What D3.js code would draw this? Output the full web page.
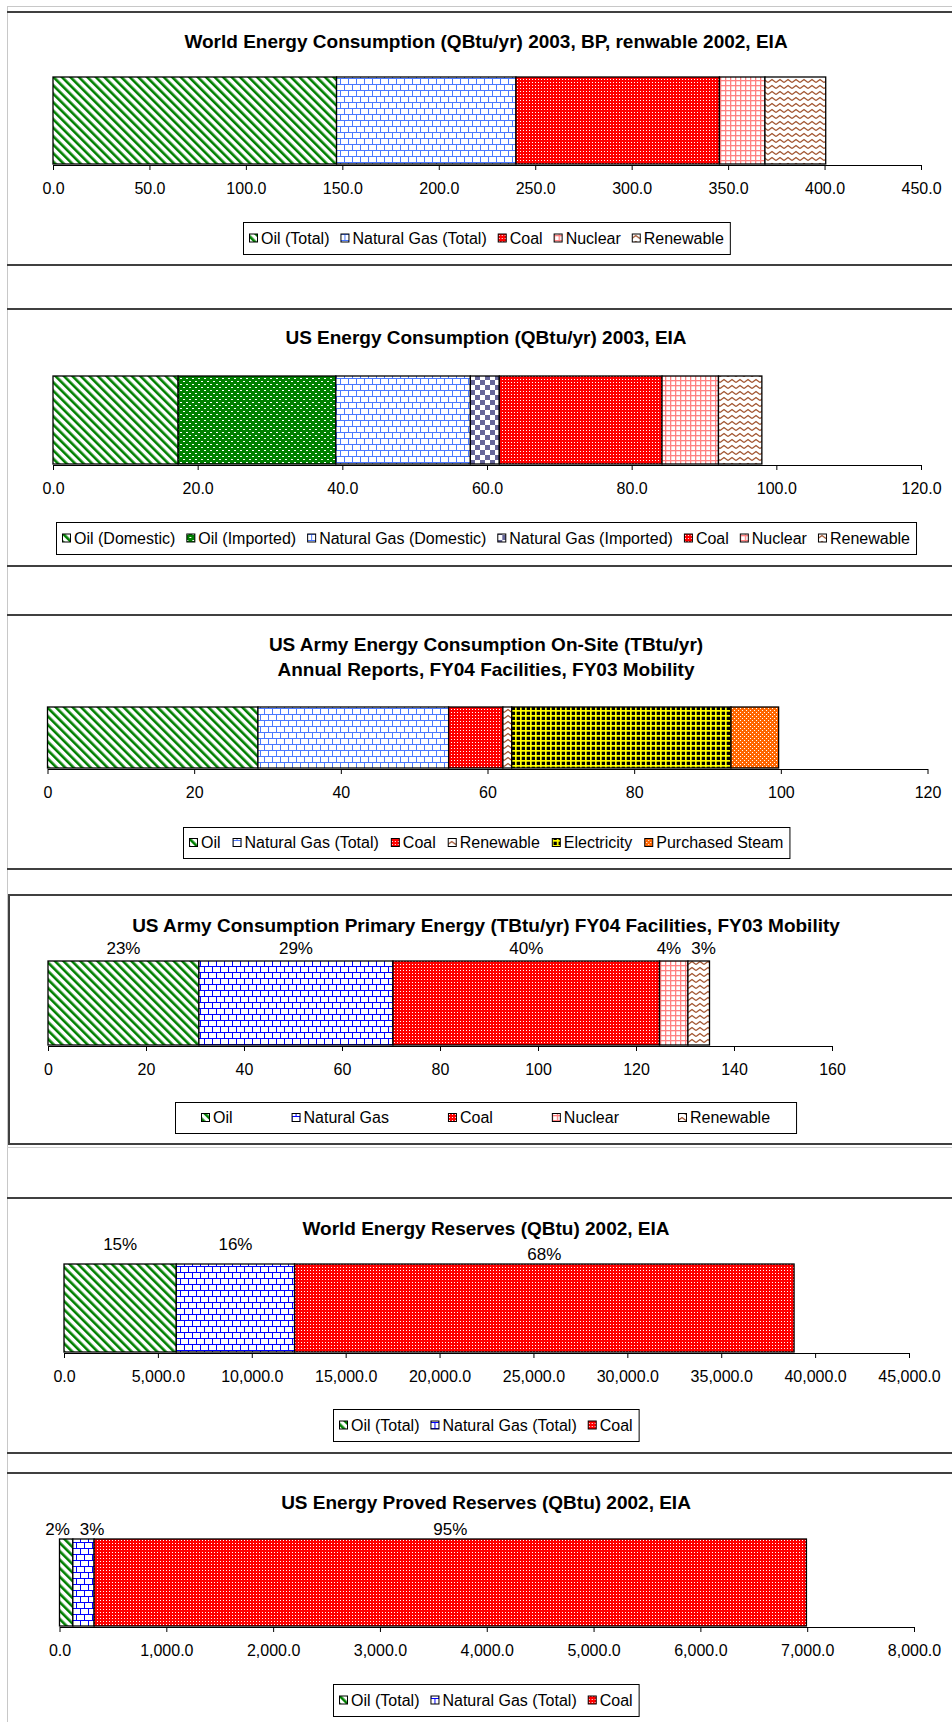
<!DOCTYPE html>
<html>
<head>
<meta charset="utf-8">
<script src="https://cdn.jsdelivr.net/npm/d3@7/dist/d3.min.js"></script>
<style>
	body { margin: 0; background: #fff; }
	svg { display: block; font-family: 'Liberation Sans', Arial, sans-serif; }
	.title { font-weight: bold; font-size: 19px; fill: #000; }
	.tick text { font-family: 'Liberation Sans', Arial, sans-serif; font-size: 16px; fill: #000; }
	.pct { font-size: 17px; fill: #000; }
	.legend text { font-size: 16px; fill: #000; }
</style>
</head>
<body>
<div id="page"></div>
<script>

/* World Energy Consumption (QBtu/yr) */
var worldConsCategories = ['Oil (Total)', 'Natural Gas (Total)', 'Coal', 'Nuclear', 'Renewable'];
var worldConsValues = [147.0, 93.0, 105.5, 23.6, 31.5];
var worldConsTicks = [0, 50, 100, 150, 200, 250, 300, 350, 400, 450];

/* US Energy Consumption (QBtu/yr) */
var usConsCategories = ['Oil (Domestic)', 'Oil (Imported)', 'Natural Gas (Domestic)', 'Natural Gas (Imported)', 'Coal', 'Nuclear', 'Renewable'];
var usConsValues = [17.3, 21.8, 18.6, 4.0, 22.5, 7.8, 6.0];
var usConsTicks = [0, 20, 40, 60, 80, 100, 120];

/* US Army on-site (TBtu/yr) */
var armySiteCategories = ['Oil', 'Natural Gas (Total)', 'Coal', 'Renewable', 'Electricity', 'Purchased Steam'];
var armySiteValues = [28.7, 26.0, 7.4, 1.2, 29.9, 6.5];
var armySiteTicks = [0, 20, 40, 60, 80, 100, 120];

/* US Army primary (TBtu/yr) */
var armyPrimCategories = ['Oil', 'Natural Gas', 'Coal', 'Nuclear', 'Renewable'];
var armyPrimValues = [30.8, 39.6, 54.4, 5.8, 4.4];
var armyPrimTicks = [0, 20, 40, 60, 80, 100, 120, 140, 160];

/* World Energy Reserves (QBtu) */
var worldResCategories = ['Oil (Total)', 'Natural Gas (Total)', 'Coal'];
var worldResValues = [5980, 6300, 26600];
var worldResTicks = [0, 5000, 10000, 15000, 20000, 25000, 30000, 35000, 40000, 45000];

/* US Proved Reserves (QBtu) */
var usResCategories = ['Oil (Total)', 'Natural Gas (Total)', 'Coal'];
var usResValues = [125, 199, 6669];
var usResTicks = [0, 1000, 2000, 3000, 4000, 5000, 6000, 7000, 8000];

var W = 952, H = 1722, CX = 486;

var svg = d3.select('#page').append('svg')
	.attr('width', W)
	.attr('height', H)

var defs = svg.append('defs')

function pattern(id, w, h, bg) {
	var p = defs.append('pattern')
		.attr('id', id)
		.attr('patternUnits', 'userSpaceOnUse')
		.attr('width', w)
		.attr('height', h)
	p.append('rect').attr('width', w).attr('height', h).attr('fill', bg)
	return (p)
}

function bits(p, color, rects) {
	rects.forEach(function (r) {
		p.append('rect')
			.attr('x', r[0]).attr('y', r[1])
			.attr('width', r[2]).attr('height', r[3])
			.attr('fill', color)
	})
	return (p)
}

/* Excel-like fill patterns */
bits(pattern('diagGreen', 6, 6, '#fff').attr('patternTransform', 'rotate(-45)'), '#008000', [[0, 0, 2.6, 6]])
bits(pattern('dotGreen', 6, 6, '#008000'), '#fff', [[0, 0, 2, 1], [3, 3, 2, 1]])
bits(pattern('brickLight', 8, 12, '#fff'), '#4a78ff', [[0, 0, 8, 1], [0, 6, 8, 1], [0, 0, 1, 6], [4, 6, 1, 6]])
bits(pattern('brickDark', 8, 12, '#fff'), '#0000ff', [[0, 0, 8, 1], [0, 6, 8, 1], [0, 0, 1, 6], [4, 6, 1, 6]])
bits(pattern('checkSlate', 10, 10, '#fff'), '#666699', [[0, 0, 5, 5], [5, 5, 5, 5]])
bits(pattern('dotRed', 3, 3, '#ff0000'), '#fff', [[1, 1, 1, 1]])
bits(pattern('gridPink', 5, 5, '#fff'), '#ff8080', [[0, 0, 5, 1.3], [0, 0, 1.3, 5]])
bits(pattern('gridYellow', 5, 5, '#000'), '#ffff00', [[0, 0, 5, 1.7], [0, 0, 1.7, 5]])
bits(pattern('dotOrange', 4, 4, '#ff6600'), '#fff', [[0, 0, 1, 1], [2, 2, 1, 1]])
pattern('zigBrown', 8, 6, '#fff')
	.append('path')
	.attr('d', 'M0,4.5L4,1.5L8,4.5')
	.attr('fill', 'none')
	.attr('stroke', '#a0522d')
	.attr('stroke-width', 1.3)

/* page edges */
svg.append('line').attr('x1', 7).attr('x2', W).attr('y1', 6.5).attr('y2', 6.5).attr('stroke', '#c8c8c8')
svg.append('line').attr('x1', 7.5).attr('x2', 7.5).attr('y1', 6).attr('y2', H).attr('stroke', '#c8c8c8')

function chart(id) {

	var chart = {};

	chart.id = id;

	chart.attachTo = function (parent) {
		this.g = parent.append('g').attr('id', id)
		return (this)
	}

	/* dark rules above and below, or a full box */
	chart.setFrame = function (top, bottom, boxed) {
		var ref = this
		if (boxed) {
			this.g.append('rect')
				.attr('x', 9).attr('y', top)
				.attr('width', W).attr('height', bottom - top)
				.attr('fill', 'none')
				.attr('stroke', '#404040')
				.attr('stroke-width', 2)
			this.g.append('line')
				.attr('x1', 7).attr('x2', W)
				.attr('y1', bottom + 3.5).attr('y2', bottom + 3.5)
				.attr('stroke', '#d0d0d0')
			return (this)
		}
		[top, bottom].forEach(function (y) {
			if (y == undefined) return
			ref.g.append('line')
				.attr('x1', 7).attr('x2', W)
				.attr('y1', y).attr('y2', y)
				.attr('stroke', '#404040')
				.attr('stroke-width', 2)
		})
		return (this)
	}

	chart.setTitle = function (lines, ys) {
		var ref = this
		this.titles = lines.map(function (t, i) {
			return ref.g.append('text')
				.attr('class', 'title')
				.attr('x', CX)
				.attr('y', ys[i])
				.attr('dy', '0.35em')
				.attr('text-anchor', 'middle')
				.text(t)
		})
		return (this)
	}

	chart.setData = function (categories, values, fills) {
		var row = {}
		categories.forEach(function (c, i) { row[c] = values[i] })
		this.categories = categories
		this.fills = fills
		this.total = d3.sum(values)
		this.series = d3.stack().keys(categories)([row])
		return (this)
	}

	chart.setXScale = function (domain, range) {
		this.xScale = d3.scaleLinear().domain(domain).range(range)
		return (this)
	}

	chart.setYScale = function (top, bottom) {
		this.yScale = d3.scaleBand().domain(['total']).range([top, bottom]).padding(0)
		return (this)
	}

	chart.drawBars = function () {
		var ref = this
		this.g.append('g')
			.selectAll('rect')
			.data(this.series)
			.join('rect')
			.attr('x', function (s) { return ref.xScale(s[0][0]) })
			.attr('width', function (s) { return ref.xScale(s[0][1]) - ref.xScale(s[0][0]) })
			.attr('y', this.yScale('total'))
			.attr('height', this.yScale.bandwidth())
			.attr('fill', function (s, i) { return 'url(#' + ref.fills[i] + ')' })
			.attr('stroke', '#000')
			.attr('stroke-width', 1.3)
		return (this)
	}

	chart.setAxis = function (ticks, fmt, y) {
		var axis = d3.axisBottom(this.xScale)
			.tickValues(ticks)
			.tickFormat(d3.format(fmt))
			.tickSize(5)
			.tickSizeOuter(0)
			.tickPadding(13)
		this.g.append('g')
			.attr('transform', 'translate(0,' + y + ')')
			.call(axis)
		return (this)
	}

	/* percentage labels above each segment, kept clear of the title and of each other */
	chart.setPercents = function (y) {
		var ref = this
		var tb = this.titles[this.titles.length - 1].node().getBBox()
		var labels = this.g.append('g')
			.selectAll('text')
			.data(this.series)
			.join('text')
			.attr('class', 'pct')
			.attr('x', function (s) { return ref.xScale((s[0][0] + s[0][1]) / 2) })
			.attr('y', y)
			.attr('dy', '0.35em')
			.attr('text-anchor', 'middle')
			.text(function (s) { return Math.round((s[0][1] - s[0][0]) / ref.total * 100) + '%' })
			.each(function () {
				var b = this.getBBox()
				var hit = b.x < tb.x + tb.width && b.x + b.width > tb.x && b.y < tb.y + tb.height
				if (hit) d3.select(this).attr('y', y + (tb.y + tb.height - b.y) + 6)
			})
		var nodes = labels.nodes()
		for (var i = 1; i < nodes.length; i++) {
			var a = nodes[i - 1].getBBox(), b = nodes[i].getBBox()
			var over = a.x + a.width + 10 - b.x
			if (over > 0 && Math.abs(a.y - b.y) < a.height) {
				d3.select(nodes[i - 1]).attr('x', +nodes[i - 1].getAttribute('x') - over / 2)
				d3.select(nodes[i]).attr('x', +nodes[i].getAttribute('x') + over / 2)
			}
		}
		return (this)
	}

	chart.setLegend = function (top, bottom, gap, pad) {
		var ref = this
		var cy = (top + bottom) / 2
		var lg = this.g.append('g').attr('class', 'legend')
		var box = lg.append('rect')
			.attr('y', top + 0.5)
			.attr('height', bottom - top)
			.attr('fill', '#fff')
			.attr('stroke', '#000')
		var items = lg.append('g')
		var x = 0
		this.categories.forEach(function (c, i) {
			var it = items.append('g').attr('transform', 'translate(' + x + ',0)')
			it.append('rect')
				.attr('x', 0.5).attr('y', cy - 4)
				.attr('width', 8).attr('height', 8)
				.attr('fill', 'url(#' + ref.fills[i] + ')')
				.attr('stroke', '#000')
			var t = it.append('text')
				.attr('x', 12)
				.attr('y', cy)
				.attr('dy', '0.35em')
				.text(c)
			x += 12 + t.node().getComputedTextLength() + gap
		})
		var w = x - gap
		var left = Math.round(CX - w / 2)
		items.attr('transform', 'translate(' + left + ',0)')
		box.attr('x', left - pad + 0.5).attr('width', w + pad * 2)
		return (this)
	}

	return (chart);
}

chart('worldCons').attachTo(svg)
	.setFrame(12, 265)
	.setTitle(['World Energy Consumption (QBtu/yr) 2003, BP, renwable 2002, EIA'], [41])
	.setData(worldConsCategories, worldConsValues, ['diagGreen', 'brickLight', 'dotRed', 'gridPink', 'zigBrown'])
	.setXScale([0, 450], [53, 921])
	.setYScale(77, 164)
	.drawBars()
	.setAxis(worldConsTicks, '.1f', 165)
	.setLegend(222, 254, 11, 6)

chart('usCons').attachTo(svg)
	.setFrame(309, 566)
	.setTitle(['US Energy Consumption (QBtu/yr) 2003, EIA'], [337])
	.setData(usConsCategories, usConsValues, ['diagGreen', 'dotGreen', 'brickLight', 'checkSlate', 'dotRed', 'gridPink', 'zigBrown'])
	.setXScale([0, 120], [53, 921])
	.setYScale(376, 464)
	.drawBars()
	.setAxis(usConsTicks, '.1f', 465)
	.setLegend(522, 554, 11, 6)

chart('armySite').attachTo(svg)
	.setFrame(615, 869)
	.setTitle(['US Army Energy Consumption On-Site (TBtu/yr)', 'Annual Reports, FY04 Facilities, FY03 Mobility'], [644, 669])
	.setData(armySiteCategories, armySiteValues, ['diagGreen', 'brickLight', 'dotRed', 'zigBrown', 'gridYellow', 'dotOrange'])
	.setXScale([0, 120], [47.5, 927.5])
	.setYScale(707, 768)
	.drawBars()
	.setAxis(armySiteTicks, 'd', 769)
	.setLegend(827, 858, 12, 6)

chart('armyPrim').attachTo(svg)
	.setFrame(895, 1144, true)
	.setTitle(['US Army Consumption Primary Energy (TBtu/yr) FY04 Facilities, FY03 Mobility'], [925])
	.setData(armyPrimCategories, armyPrimValues, ['diagGreen', 'brickDark', 'dotRed', 'gridPink', 'zigBrown'])
	.setXScale([0, 160], [48, 832])
	.setYScale(961, 1045)
	.drawBars()
	.setAxis(armyPrimTicks, 'd', 1046)
	.setPercents(948)
	.setLegend(1102, 1133, 59, 26)

chart('worldRes').attachTo(svg)
	.setFrame(1198, 1453)
	.setTitle(['World Energy Reserves (QBtu) 2002, EIA'], [1228])
	.setData(worldResCategories, worldResValues, ['diagGreen', 'brickDark', 'dotRed'])
	.setXScale([0, 45000], [64, 909])
	.setYScale(1264, 1352)
	.drawBars()
	.setAxis(worldResTicks, ',.1f', 1353)
	.setPercents(1244)
	.setLegend(1409, 1441, 11, 6)

chart('usRes').attachTo(svg)
	.setFrame(1473)
	.setTitle(['US Energy Proved Reserves (QBtu) 2002, EIA'], [1502])
	.setData(usResCategories, usResValues, ['diagGreen', 'brickDark', 'dotRed'])
	.setXScale([0, 8000], [59.5, 914])
	.setYScale(1539, 1626)
	.drawBars()
	.setAxis(usResTicks, ',.1f', 1627)
	.setPercents(1529)
	.setLegend(1684, 1716, 11, 6)

</script>
</body>
</html>
